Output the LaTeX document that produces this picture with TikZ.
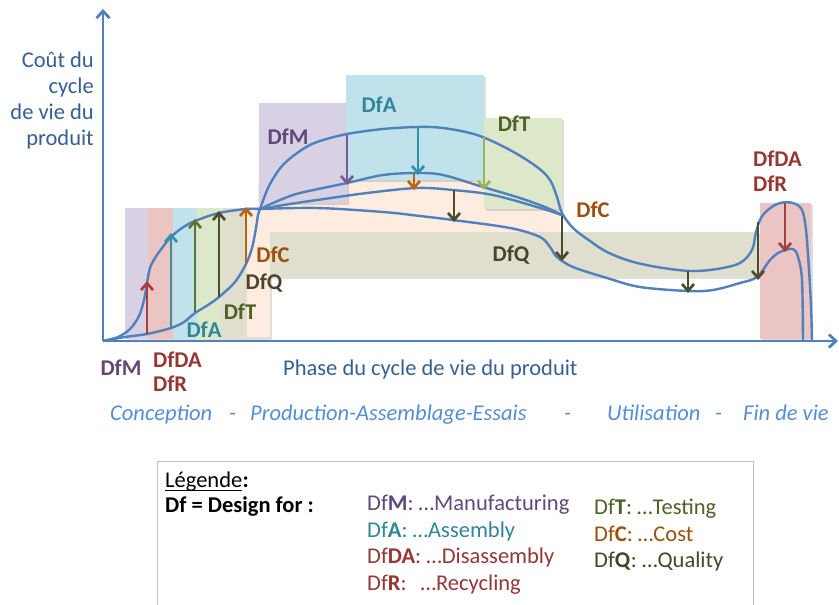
\documentclass[tikz,border=0pt]{standalone}
\usepackage{fontspec}
\setmainfont{Carlito}
\usetikzlibrary{arrows.meta}
\definecolor{axisblue}{RGB}{79,129,189}
\definecolor{txtblue}{RGB}{55,96,146}
\definecolor{phaseblue}{RGB}{85,142,213}
\definecolor{cM}{RGB}{96,73,122}
\definecolor{cA}{RGB}{49,133,155}
\definecolor{cDA}{RGB}{149,55,53}
\definecolor{cT}{RGB}{79,98,40}
\definecolor{cC}{RGB}{160,78,12}
\definecolor{cQ}{RGB}{73,69,41}
\definecolor{aM}{RGB}{118,92,150}
\definecolor{aA}{RGB}{49,145,170}
\definecolor{aDA}{RGB}{168,62,62}
\definecolor{aT}{RGB}{95,115,45}
\definecolor{aTl}{RGB}{150,180,90}
\definecolor{aC}{RGB}{190,100,15}
\definecolor{aQ}{RGB}{80,75,45}
\definecolor{fM}{RGB}{216,208,227}
\definecolor{fDA}{RGB}{235,196,196}
\definecolor{fA}{RGB}{191,226,235}
\definecolor{fT}{RGB}{221,231,201}
\definecolor{fQ}{RGB}{224,222,205}
\definecolor{fC}{RGB}{253,236,223}
\begin{document}
\begin{tikzpicture}[x=1pt,y=-1pt,
  crv/.style={draw=axisblue, line width=2.4pt, line join=round},
  axisline/.style={draw=axisblue, line width=2.8pt, -{Straight Barb[length=7pt,width=13pt]}},
  arr/.style={line width=2.7pt, -{Straight Barb[length=7pt,width=12pt]}},
  shad/.style={fill=black, opacity=0.13},
  lab/.style={font=\fontsize{22.5}{26}\selectfont\bfseries, inner sep=0pt},
  txt/.style={font=\fontsize{22.5}{26}\selectfont, inner sep=0pt},
  phase/.style={font=\fontsize{22.5}{26}\selectfont\itshape, text=phaseblue, inner sep=0pt, anchor=base west},
  leg/.style={font=\fontsize{22.5}{26}\selectfont, inner sep=0pt, anchor=base west},
]
\useasboundingbox (0,0) rectangle (839,605);
\fill[white] (0,0) rectangle (839,605);
% left bars
\fill[shad] (127,210) rectangle (272,340);
\fill[fM]  (125,208) rectangle (148,339);
\fill[fDA] (148,208) rectangle (173,339);
\fill[fA]  (173,208) rectangle (197,339);
\fill[fT]  (197,208) rectangle (221,341);
\fill[fQ]  (222,208) rectangle (247,339);
\fill[fC]  (247,207) rectangle (270,337);
% middle boxes
\fill[fC] (258,180) rectangle (560,232);
\fill[shad] (272,234) rectangle (760,279);
\fill[fQ] (270,232) rectangle (758,277);
\fill[shad] (261,105) rectangle (349,205);
\fill[fM] (259,103) rectangle (347,203);
\fill[shad] (348,77) rectangle (486,182);
\fill[fA] (346,75) rectangle (484,180);
\fill[shad] (486,120) rectangle (564,211);
\fill[fT] (484,118) rectangle (562,209);
\fill[shad] (762,205) rectangle (813,340);
\fill[fDA] (760,203) rectangle (811,339);
% curves
\coordinate (J) at (260,209);
\draw[crv] plot[smooth,tension=0.55] coordinates {(103,341) (118,337) (130,329) (139,316) (144,300) (147,283) (150,268) (155,258) (162,248) (171,237) (182,228) (195,221) (219,213) (246,209) (260,209)};
\draw[crv] plot[smooth,tension=0.55] coordinates {(103,341) (125,337) (147,334) (171,328) (184,322) (195,313) (208,305) (219,297) (235,282) (246,264) (252,248) (256,228) (258,215) (260,209)};
\draw[crv] plot[smooth,tension=0.55] coordinates {(260,209) (269,186) (282,166) (300,151) (317,142) (347,134) (383,129) (417,127) (443,128) (477,135) (510,150) (537,167) (550,180) (557,197) (562,213) (573,228) (590,241) (607,252) (630,261) (657,267) (690,271) (717,269) (740,263) (752,250) (756,232) (761,218) (769,209) (780,203) (793,203) (802,210) (806,230) (809,270) (811,305) (812,341)};
\draw[crv] plot[smooth,tension=0.55] coordinates {(260,209) (280,200) (300,193) (347,183) (383,175) (417,173) (443,175) (483,187) (520,198) (545,207) (562,215)};
\draw[crv] plot[smooth,tension=0.55] coordinates {(260,209) (290,204) (317,200) (367,193) (417,188) (453,190) (493,195) (537,207) (562,215)};
\draw[crv] plot[smooth,tension=0.55] coordinates {(260,209) (317,208) (383,212) (420,216) (453,220) (510,228) (540,237) (550,247) (557,257) (573,267) (607,278) (640,287) (688,291) (713,290) (740,283) (757,277) (770,260) (780,252) (793,249) (798,257) (802,280) (803,341)};
% axes
\coordinate (O) at (103,341);
\coordinate (Ytop) at (103,9);
\coordinate (Xend) at (838,341);
\draw[axisline] (O) -- (Ytop);
\draw[axisline] (O) -- (Xend);
% arrows up (left)
\draw[arr,aDA] (147,334) -- (147,281);
\draw[arr,aA]  (171,328) -- (171,233);
\draw[arr,aT]  (195,312) -- (195,219);
\draw[arr,aQ]  (219,297) -- (219,211);
\draw[arr,aC]  (246,263) -- (246,207);
% arrows down
\draw[arr,aM]  (347,135) -- (347,185);
\draw[arr,aA]  (418,127) -- (418,175);
\draw[arr,aTl] (484,137) -- (484,190);
\draw[arr,aC]  (414,174) -- (414,190);
\draw[arr,aQ]  (454,190) -- (454,222);
\draw[arr,aQ]  (562,216) -- (562,261);
\draw[arr,aQ]  (688,271) -- (688,293);
\draw[arr,aQ]  (758,222) -- (758,280);
\draw[arr,aDA] (785,203) -- (785,252);
% labels in plot
\node[lab,text=cM] (tM) at (288,137) {DfM};
\node[lab,text=cA] (tA) at (379,105) {DfA};
\node[lab,text=cT] (tT) at (514,124) {DfT};
\node[lab,text=cC] (tC) at (593,210) {DfC};
\node[lab,text=cQ] (tQ) at (511,255) {DfQ};
\node[lab,text=cDA,anchor=west] (tDA) at (753,159) {DfDA};
\node[lab,text=cDA,anchor=west] (tR) at (753,184) {DfR};
\node[lab,text=cC] (lC) at (273,255) {DfC};
\node[lab,text=cQ] (lQ) at (264,283) {DfQ};
\node[lab,text=cT] (lT) at (240,312) {DfT};
\node[lab,text=cA] (lA) at (204,330) {DfA};
\node[lab,text=cM] (bM) at (121,368) {DfM};
\node[lab,text=cDA,anchor=west] (bDA) at (153,360) {DfDA};
\node[lab,text=cDA,anchor=west] (bR) at (153,384) {DfR};
% axis titles
\node[txt,text=txtblue,anchor=base east] (y1) at (94,67) {Coût du};
\node[txt,text=txtblue,anchor=base east] (y2) at (94,93) {cycle};
\node[txt,text=txtblue,anchor=base east] (y3) at (94,119) {de vie du};
\node[txt,text=txtblue,anchor=base east] (y4) at (94,145) {produit};
\node[txt,text=txtblue,anchor=base west] (xl) at (283,375) {Phase du cycle de vie du produit};
% phases
\node[phase] (p1) at (110,420) {Conception};
\node[phase] (d1) at (229,420) {-};
\node[phase] (p2) at (250,420) {Production-Assemblage-Essais};
\node[phase] (d2) at (564,420) {-};
\node[phase] (p3) at (607,420) {Utilisation};
\node[phase] (d3) at (715,420) {-};
\node[phase] (p4) at (743,420) {Fin de vie};
% legend
\draw[draw=black!25, line width=1pt] (157,615) -- (157,461) -- (753,461) -- (753,615);
\node[leg] (lgu) at (165,487) {Légende};
\node[leg,font=\fontsize{22.5}{26}\selectfont\bfseries] (lgc) at (lgu.base east) {:};
\draw[line width=1pt] ([yshift=-3pt]lgu.base west) -- ([yshift=-3pt]lgu.base east);
\node[leg] (lg1) at (165,512) {\textbf{Df = Design for :}};
\node[leg,text=cM]  (lgM)  at (367,510) {Df\textbf{M}: …Manufacturing};
\node[leg,text=cA]  (lgA)  at (367,537) {Df\textbf{A}: …Assembly};
\node[leg,text=cDA] (lgDA) at (367,563) {Df\textbf{DA}: …Disassembly};
\node[leg,text=cDA] (lgR)  at (367,590) {Df\textbf{R}:\hspace{14pt}…Recycling};
\node[leg,text=cT]  (lgT)  at (594,514) {Df\textbf{T}: …Testing};
\node[leg,text=cC]  (lgC)  at (594,541) {Df\textbf{C}: …Cost};
\node[leg,text=cQ]  (lgQ)  at (594,567) {Df\textbf{Q}: …Quality};
\end{tikzpicture}
\end{document}
